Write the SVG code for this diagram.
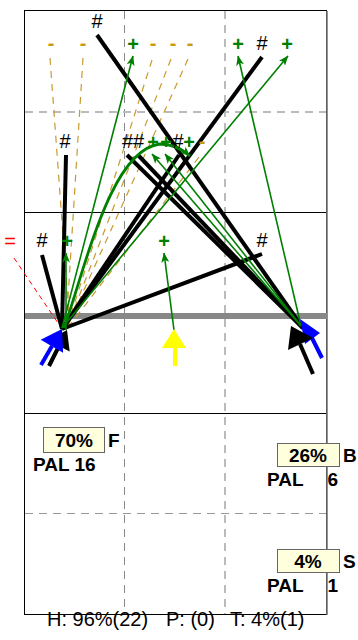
<svg xmlns="http://www.w3.org/2000/svg" width="358" height="640" viewBox="0 0 358 640">
<defs>
<style>
.hash{font-family:"Liberation Sans",Arial,sans-serif;font-size:20px;fill:#000;text-anchor:middle}
.plus{font-family:"Liberation Sans",Arial,sans-serif;font-size:20px;font-weight:bold;fill:#008000;text-anchor:middle}
.minus{font-family:"Liberation Sans",Arial,sans-serif;font-size:20px;font-weight:bold;fill:#c89a10;text-anchor:middle}
.eq{font-family:"Liberation Sans",Arial,sans-serif;font-size:20px;fill:#ff0000;text-anchor:middle}
.big{font-family:"Liberation Sans",Arial,sans-serif;font-size:19px;font-weight:bold;fill:#000}
.foot{font-family:"Liberation Sans",Arial,sans-serif;font-size:20px;fill:#000}
.blk{stroke:#000;stroke-width:4;fill:none}
.grn{stroke:#008000;stroke-width:1.6;fill:none;marker-end:url(#ga)}
.org{stroke:#c89a30;stroke-width:1.2;stroke-dasharray:7,6;fill:none}
.box{fill:#ffffdd;stroke:#666;stroke-width:1}
</style>
<marker id="ga" markerWidth="10" markerHeight="8" refX="9.5" refY="4" orient="auto" markerUnits="userSpaceOnUse">
<path d="M0,0 L10,4 L0,8 L2.5,4 z" fill="#008000"/>
</marker>
</defs>
<rect width="358" height="640" fill="#fff"/>
<g id="grid">
<line x1="124.5" y1="11" x2="124.5" y2="614" stroke="#888" stroke-width="1" stroke-dasharray="8,6"/>
<line x1="225" y1="11" x2="225" y2="614" stroke="#bbb" stroke-width="2" stroke-dasharray="8,6"/>
<line x1="25" y1="112" x2="327" y2="112" stroke="#bbb" stroke-width="2" stroke-dasharray="8,6"/>
<line x1="25" y1="513.5" x2="327" y2="513.5" stroke="#999" stroke-width="1" stroke-dasharray="8,6"/>
<line x1="24.5" y1="212.5" x2="326.5" y2="212.5" stroke="#000" stroke-width="1"/>
<line x1="24.5" y1="413.5" x2="326.5" y2="413.5" stroke="#000" stroke-width="1"/>
<rect x="24.5" y="10.5" width="302" height="604" fill="none" stroke="#000" stroke-width="1"/>
<line x1="327" y1="11" x2="327" y2="615" stroke="#777" stroke-width="1.6"/>
<rect x="25" y="313" width="302" height="6" fill="#888"/>
</g>
<g id="connectors">
<line class="org" x1="50" y1="58" x2="70" y2="330"/>
<line class="org" x1="83" y1="58" x2="66" y2="330"/>
<line class="org" x1="152" y1="60" x2="66" y2="330"/>
<line class="org" x1="171" y1="59" x2="66" y2="330"/>
<line class="org" x1="188" y1="59" x2="66" y2="330"/>
<line class="org" x1="199" y1="157" x2="66" y2="330"/>
<line x1="14" y1="258" x2="60" y2="326" stroke="#f00" stroke-width="1" stroke-dasharray="5,4"/>
<line class="blk" x1="97" y1="35" x2="303" y2="328"/>
<line class="blk" x1="262" y1="57" x2="62" y2="329"/>
<line class="blk" x1="66" y1="155" x2="62" y2="329"/>
<line class="blk" x1="127" y1="155" x2="303" y2="328"/>
<line class="blk" x1="138" y1="155" x2="303" y2="328"/>
<line class="blk" x1="179" y1="155" x2="62" y2="329"/>
<line class="blk" x1="42" y1="255" x2="62" y2="329"/>
<line class="blk" x1="262" y1="254" x2="62" y2="329"/>
<line class="grn" x1="62" y1="328" x2="133" y2="56"/>
<line class="grn" x1="301" y1="326" x2="238" y2="56"/>
<line class="grn" x1="62" y1="328" x2="288" y2="56"/>
<line class="grn" x1="66" y1="330" x2="66" y2="253"/>
<line class="grn" x1="174" y1="330" x2="164" y2="253"/>
<line class="grn" x1="301" y1="326" x2="152" y2="154"/>
<line class="grn" x1="301" y1="326" x2="165" y2="154"/>
<path d="M64,328 C85,270 110,150 160,144 C172,144 182,149 190,156" stroke="#008000" stroke-width="2.8" fill="none" marker-end="url(#ga)"/>
</g>
<g id="arrows">
<line x1="49" y1="366" x2="59" y2="346" stroke="#000" stroke-width="4"/>
<polygon points="67,330 69.7,351.4 48.3,340.6" fill="#000"/>
<line x1="41" y1="365" x2="52" y2="346" stroke="#00f" stroke-width="4"/>
<polygon points="62,329 63.1,352.8 40.7,339.7" fill="#00f"/>
<line x1="322" y1="358" x2="312" y2="338" stroke="#00f" stroke-width="4"/>
<polygon points="300,319 320,333 305,344" fill="#00f"/>
<line x1="313" y1="374" x2="300" y2="344" stroke="#000" stroke-width="4"/>
<polygon points="291,326 313,338 288,350" fill="#000"/>
<line x1="175" y1="347" x2="175" y2="366" stroke="#ff0" stroke-width="4"/>
<polygon points="174,329 186,348 162,348" fill="#ff0"/>
</g>
<g id="labels">
<text class="hash" x="97" y="28">#</text>
<text class="minus" x="51" y="50">-</text>
<text class="minus" x="83" y="50">-</text>
<text class="plus" x="133" y="51">+</text>
<text class="minus" x="153" y="50">-</text>
<text class="minus" x="173" y="50">-</text>
<text class="minus" x="190" y="50">-</text>
<text class="plus" x="238" y="51">+</text>
<text class="hash" x="262" y="50">#</text>
<text class="plus" x="287" y="51">+</text>
<text class="hash" x="65" y="148">#</text>
<text class="hash" x="133" y="148">##</text>
<text class="plus" x="153" y="149">+</text>
<text class="plus" x="166" y="149">+</text>
<text class="hash" x="178" y="148">#</text>
<text class="plus" x="189" y="149">+</text>
<text class="minus" x="202" y="148">-</text>
<text class="eq" x="10" y="248">=</text>
<text class="hash" x="42" y="247">#</text>
<text class="plus" x="67" y="248">+</text>
<text class="plus" x="164" y="248">+</text>
<text class="hash" x="262" y="247">#</text>
</g>
<g id="node-F">
<rect class="box" x="43.5" y="427.5" width="61" height="25"/>
<text class="big" x="74" y="447" text-anchor="middle">70%</text>
<text class="big" x="108" y="447">F</text>
<text class="big" x="33" y="471">PAL 16</text>
</g>
<g id="node-B">
<rect class="box" x="277.5" y="443.5" width="62" height="23"/>
<text class="big" x="308" y="462" text-anchor="middle">26%</text>
<text class="big" x="343" y="462">B</text>
<text class="big" x="267" y="486">PAL</text>
<text class="big" x="338" y="486" text-anchor="end">6</text>
</g>
<g id="node-S">
<rect class="box" x="277.5" y="549.5" width="62" height="23"/>
<text class="big" x="308" y="568" text-anchor="middle">4%</text>
<text class="big" x="343" y="568">S</text>
<text class="big" x="267" y="592">PAL</text>
<text class="big" x="338" y="592" text-anchor="end">1</text>
</g>
<g id="footer">
<text class="foot" x="47" y="626">H: 96%(22)</text>
<text class="foot" x="166" y="626">P: (0)</text>
<text class="foot" x="230" y="626">T: 4%(1)</text>
</g>
</svg>
